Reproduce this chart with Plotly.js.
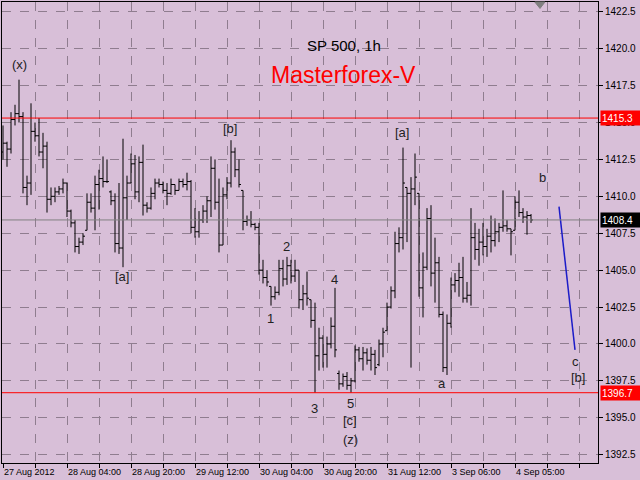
<!DOCTYPE html>
<html>
<head>
<meta charset="utf-8">
<script src="https://cdn.plot.ly/plotly-3.0.1.min.js"></script>
<style>html,body{margin:0;padding:0;background:#d8bfd8;}#chart{width:640px;height:480px;}</style>
</head>
<body>
<div id="chart"></div>
<script>
// SP 500, 1h bars (bar index 0 = first bar on the chart)
const openP = [
1413.0,1413.6,1413.2,1415.2,1415.6,1415.4,1410.6,1410.9,1414.4,1414.1,
1413.0,1413.4,1409.8,1410.0,1410.3,1410.5,1410.9,1409.0,1408.2,1406.6,
1406.9,1407.7,1409.6,1409.2,1410.8,1411.2,1411.0,1410.3,1409.7,1406.8,
1406.5,1409.9,1410.9,1412.2,1410.3,1412.3,1409.4,1409.2,1410.2,1410.9,
1410.8,1410.4,1410.2,1410.8,1410.4,1411.0,1410.8,1411.0,1407.9,1407.6,
1408.4,1409.0,1409.7,1411.9,1409.6,1406.7,1410.1,1410.9,1413.0,1411.8,
1410.4,1408.3,1408.4,1408.1,1407.9,1405.0,1404.5,1403.9,1403.2,1403.5,
1405.1,1404.4,1405.3,1404.6,1405.0,1403.0,1403.4,1403.0,1401.6,1399.2,
1400.4,1399.3,1400.0,1401.2,1398.0,1397.3,1397.8,1397.2,1397.5,1399.6,
1399.0,1399.4,1398.9,1399.3,1398.6,1400.0,1400.9,1402.5,1403.6,1406.8,
1407.2,1410.6,1410.2,1410.5,1410.2,1403.8,1405.2,1408.5,1404.8,1405.5,
1402.0,1398.4,1401.4,1404.0,1404.3,1404.5,1403.1,1403.3,1407.2,1406.4,
1406.9,1406.6,1407.3,1407.0,1407.6,1407.9,1408.0,1407.8,1407.7,1409.6,
1408.9,1408.6,1408.7];
const highP = [
1414.8,1413.7,1415.7,1416.2,1417.9,1415.7,1411.4,1416.3,1415.0,1415.3,
1414.3,1413.7,1410.6,1410.6,1410.7,1411.2,1410.9,1409.1,1408.4,1407.2,
1407.5,1410.2,1410.2,1411.4,1411.8,1412.7,1412.5,1410.4,1410.2,1410.9,
1413.9,1411.4,1412.9,1412.8,1412.7,1413.5,1409.6,1410.6,1411.2,1411.2,
1411.0,1410.9,1411.2,1410.8,1411.2,1411.2,1411.6,1411.1,1409.2,1409.0,
1409.4,1410.0,1412.7,1412.5,1411.2,1410.6,1411.3,1413.8,1413.3,1412.5,
1410.4,1408.7,1409.0,1408.2,1408.2,1405.7,1405.0,1403.9,1403.9,1405.7,
1405.7,1405.9,1405.7,1405.7,1405.0,1404.0,1404.9,1403.0,1402.8,1401.1,
1400.6,1400.5,1401.8,1403.8,1398.2,1398.0,1398.1,1397.7,1399.9,1399.8,
1399.8,1399.7,1399.8,1399.6,1400.3,1401.1,1402.8,1403.9,1407.6,1407.9,
1413.3,1410.6,1411.3,1412.9,1410.2,1406.2,1409.2,1409.4,1407.2,1405.9,
1402.2,1402.0,1404.5,1404.8,1405.5,1405.9,1404.2,1409.2,1408.2,1407.8,
1408.2,1407.8,1408.7,1408.5,1408.2,1410.4,1408.4,1407.8,1410.0,1410.4,
1409.2,1409.0,1408.8];
const lowP = [
1412.5,1412.0,1412.9,1414.8,1415.0,1410.2,1409.4,1410.1,1413.7,1412.7,
1411.9,1408.9,1409.4,1409.6,1410.1,1410.2,1408.6,1407.9,1406.2,1406.1,
1406.7,1407.7,1408.9,1407.7,1409.1,1410.6,1410.9,1409.4,1406.2,1406.1,
1405.2,1408.4,1410.9,1409.8,1409.6,1408.7,1408.9,1409.1,1409.8,1410.6,
1410.2,1409.4,1410.1,1410.1,1410.4,1410.6,1410.4,1407.5,1407.2,1407.2,
1408.2,1408.2,1408.6,1409.1,1406.2,1406.7,1409.8,1410.6,1411.3,1410.6,
1407.7,1408.0,1407.9,1407.7,1404.7,1404.1,1403.9,1402.6,1403.0,1403.3,
1403.9,1404.0,1404.1,1404.2,1402.4,1402.3,1402.6,1401.1,1396.7,1398.2,
1398.4,1398.4,1399.7,1399.1,1396.9,1397.1,1396.9,1396.7,1397.4,1398.8,
1398.2,1398.6,1398.2,1397.9,1398.5,1399.1,1400.9,1402.4,1403.1,1406.2,
1406.4,1406.9,1398.4,1409.4,1403.2,1401.8,1405.0,1403.9,1402.8,1401.8,
1398.1,1397.9,1401.1,1403.5,1403.2,1402.8,1402.8,1402.6,1405.7,1405.3,
1406.0,1405.9,1406.2,1406.6,1406.9,1407.6,1407.6,1406.0,1407.7,1408.6,
1408.2,1407.4,1408.2];
const closeP = [
1413.6,1413.2,1415.2,1415.6,1415.4,1410.6,1410.9,1414.4,1414.1,1413.0,
1413.4,1409.8,1410.0,1410.3,1410.5,1410.9,1409.0,1408.2,1406.6,1406.9,
1407.3,1409.6,1409.2,1410.8,1411.2,1411.0,1411.0,1409.7,1406.8,1406.5,
1409.9,1410.9,1412.2,1410.3,1412.3,1409.4,1409.2,1410.2,1410.9,1410.8,
1410.4,1410.2,1410.8,1410.4,1411.0,1410.8,1411.0,1407.9,1407.6,1408.4,
1409.0,1409.7,1411.9,1409.6,1406.7,1410.1,1410.9,1413.0,1411.8,1410.8,
1408.3,1408.4,1408.1,1407.9,1405.0,1404.5,1404.2,1403.2,1403.5,1405.1,
1404.4,1405.3,1404.6,1405.0,1403.0,1403.4,1403.1,1401.6,1399.2,1400.4,
1399.3,1400.0,1401.2,1399.6,1397.3,1397.8,1397.2,1397.5,1399.6,1399.0,
1399.4,1398.9,1399.3,1398.4,1400.0,1400.8,1402.5,1403.6,1406.8,1407.2,
1410.9,1410.2,1410.5,1411.3,1403.8,1405.2,1408.5,1404.8,1405.5,1402.0,
1398.4,1401.4,1404.0,1404.3,1404.5,1403.1,1403.3,1407.2,1406.4,1406.9,
1406.6,1407.3,1407.0,1407.6,1407.9,1408.0,1407.8,1407.6,1409.6,1408.9,
1408.6,1408.7,1408.4];

// time axis labels, one every 16 bars
const timeLabels = ['27 Aug 2012','28 Aug 04:00','28 Aug 20:00','29 Aug 12:00',
  '30 Aug 04:00','30 Aug 20:00','31 Aug 12:00','3 Sep 06:00','4 Sep 05:00'];
const barsPerLabel = 16;

// levels
const resistance = 1415.3;
const support = 1396.7;
const lastPrice = 1408.4;

// projected wave line (bar index, price)
const projX = [139, 143];
const projY = [1409.3, 1399.6];

// wave labels
const waveText = ['(x)','[a]','[b]','1','2','3','4','5','[c]','(z)','[a]','a','b','c','[b]'];
const waveX = [4, 29.75, 56.75, 66.75, 70.75, 77.75, 82.75, 86.75, 86.75, 86.75, 99.75, 109.75, 134.75, 143, 143.75];
const waveY = [1418.95, 1404.6, 1414.6, 1401.7, 1406.6, 1395.6, 1404.4, 1396.0, 1394.85, 1393.55, 1414.35, 1397.35, 1411.3, 1398.8, 1397.7];

const idx = closeP.map((_, i) => i);

const tickvals = [], ticktext = [];
for (let k = 0; k <= 18; k++) {
  tickvals.push(k * barsPerLabel / 2);
  ticktext.push(k % 2 === 0 && timeLabels[k / 2] ? timeLabels[k / 2] : '');
}

const grid = '#8f7d8f';
const traces = [
  {
    type: 'ohlc', x: idx, open: openP, high: highP, low: lowP, close: closeP,
    increasing: {line: {color: '#000000', width: 1}},
    decreasing: {line: {color: '#000000', width: 1}},
    tickwidth: 0.5, hoverinfo: 'skip', showlegend: false
  },
  {
    type: 'scatter', mode: 'lines', x: projX, y: projY,
    line: {color: '#1c1cc8', width: 1.5}, hoverinfo: 'skip', showlegend: false
  }
];

const annotations = waveText.map((t, i) => ({
  x: waveX[i], y: waveY[i], xref: 'x', yref: 'y', text: t, showarrow: false,
  xanchor: 'center', yanchor: 'middle',
  font: {family: 'Liberation Sans, Arial, sans-serif', size: 13, color: '#222222'}
}));

annotations.push({
  xref: 'paper', yref: 'paper', x: 0.573, y: 0.905, xanchor: 'center', yanchor: 'middle',
  text: 'SP 500, 1h', showarrow: false,
  font: {family: 'Liberation Sans, Arial, sans-serif', size: 15, color: '#000000'}
});
annotations.push({
  xref: 'paper', yref: 'paper', x: 0.573, y: 0.842, xanchor: 'center', yanchor: 'middle',
  text: 'Masterforex-V', showarrow: false,
  font: {family: 'Liberation Sans, Arial, sans-serif', size: 23, color: '#ff0000'}
});

function priceBox(v, bg) {
  return {
    xref: 'paper', yref: 'y', x: 1, y: v, xanchor: 'left', yanchor: 'middle', xshift: 2,
    text: v.toFixed(1), showarrow: false, bgcolor: bg, width: 38, height: 12, align: 'left',
    borderpad: 1,
    font: {family: 'Liberation Sans, Arial, sans-serif', size: 10, color: '#ffffff'}
  };
}
annotations.push(priceBox(resistance, '#ff0000'));
annotations.push(priceBox(support, '#ff0000'));
annotations.push(priceBox(lastPrice, '#000000'));

const shapes = [
  {type: 'line', xref: 'paper', x0: 0, x1: 1, yref: 'y', y0: resistance, y1: resistance, line: {color: '#ff0000', width: 1}},
  {type: 'line', xref: 'paper', x0: 0, x1: 1, yref: 'y', y0: support, y1: support, line: {color: '#ff0000', width: 1}},
  {type: 'line', xref: 'paper', x0: 0, x1: 1, yref: 'y', y0: lastPrice, y1: lastPrice, line: {color: '#808080', width: 1}},
  {type: 'path', xref: 'paper', yref: 'paper', path: 'M 0.894 1 L 0.911 1 L 0.9027 0.986 Z',
   fillcolor: '#808080', line: {color: '#808080', width: 1}}
];

const layout = {
  width: 640, height: 480,
  margin: {l: 2, r: 42, t: 2, b: 17},
  paper_bgcolor: '#d8bfd8', plot_bgcolor: '#d8bfd8',
  showlegend: false,
  xaxis: {
    range: [-0.25, 148.75], tickmode: 'array', tickvals: tickvals, ticktext: ticktext,
    showgrid: true, gridcolor: grid, griddash: 'dash', gridwidth: 1,
    zeroline: false, showline: true, linecolor: '#000000', linewidth: 1, mirror: true,
    ticks: 'outside', ticklen: 4, tickcolor: '#000000',
    ticklabelposition: 'outside right',
    rangeslider: {visible: false}, fixedrange: true,
    tickfont: {family: 'Liberation Sans, Arial, sans-serif', size: 9, color: '#000000'}
  },
  yaxis: {
    side: 'right', range: [1391.94, 1423.16], tickmode: 'linear', tick0: 1392.5, dtick: 2.5,
    tickformat: '.1f', showgrid: true, gridcolor: grid, griddash: 'dash', gridwidth: 1,
    zeroline: false, showline: true, linecolor: '#000000', linewidth: 1, mirror: true,
    ticks: 'outside', ticklen: 4, tickcolor: '#000000', fixedrange: true,
    tickfont: {family: 'Liberation Sans, Arial, sans-serif', size: 10, color: '#000000'}
  },
  annotations: annotations,
  shapes: shapes
};

Plotly.newPlot('chart', traces, layout, {displayModeBar: false, staticPlot: true});
</script>
</body>
</html>
